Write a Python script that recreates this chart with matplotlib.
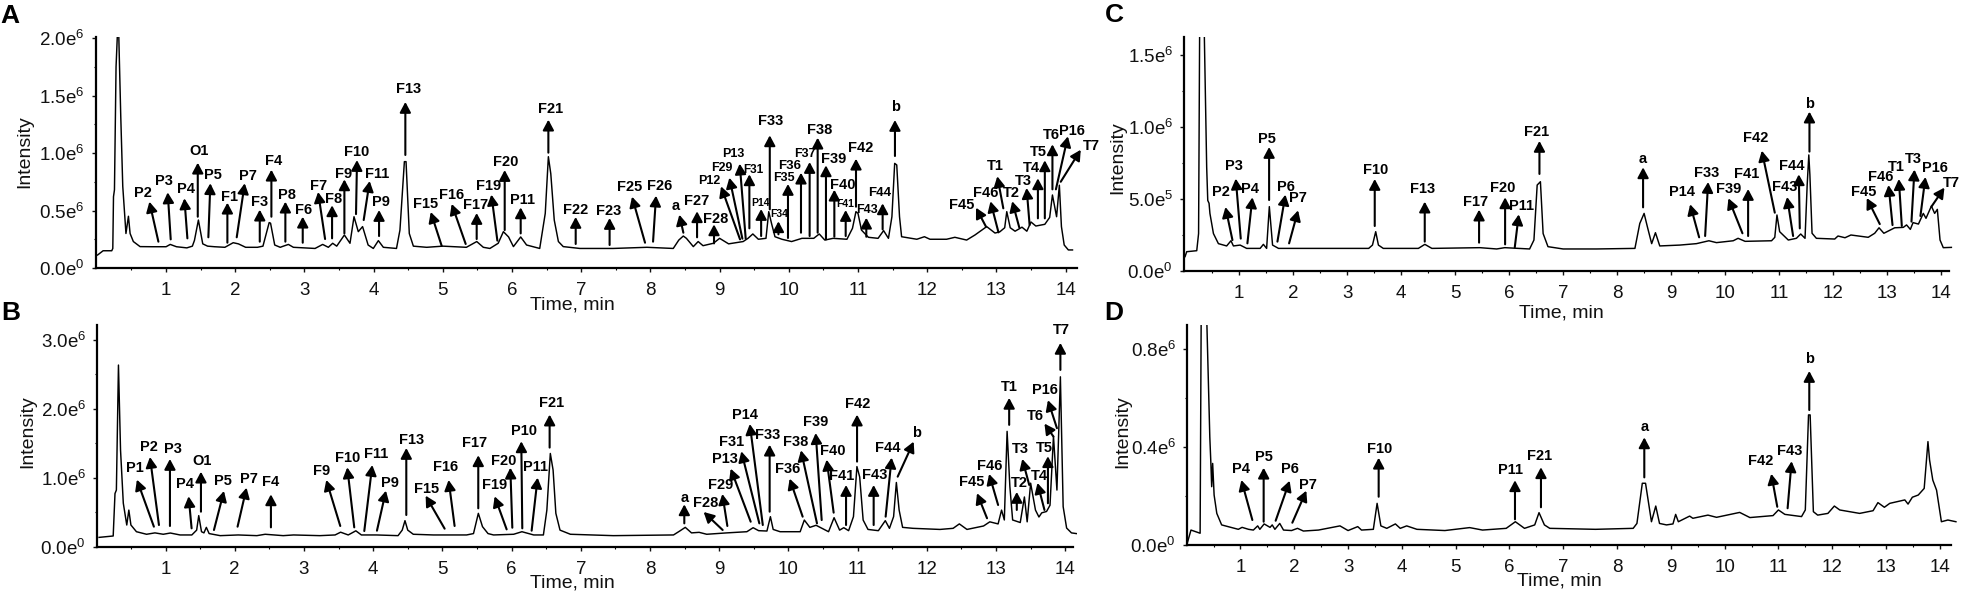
import matplotlib
matplotlib.use('Agg')
import matplotlib.pyplot as plt

plt.rcParams['font.family'] = ['Liberation Sans', 'DejaVu Sans']
plt.rcParams['mathtext.default'] = 'regular'
plt.rcParams['mathtext.fontset'] = 'custom'
plt.rcParams['mathtext.rm'] = 'Liberation Sans'

# chromatograms, intensity in units of 1e6
a_time = [0.01,0.09,0.215,0.23,0.24,0.254,0.277,0.297,0.316,0.345,0.374,0.42,0.456,0.48,0.527,0.624,0.8,1.0,1.06,1.15,1.3,1.38,1.41,1.467,1.53,1.6,1.7,1.85,1.97,2.045,2.15,2.32,2.4,2.49,2.51,2.57,2.65,2.695,2.768,2.84,3.0,3.153,3.263,3.345,3.408,3.466,3.577,3.658,3.716,3.778,3.84,3.92,3.995,4.068,4.14,4.33,4.38,4.444,4.468,4.515,4.574,4.766,5.0,5.34,5.49,5.585,5.68,5.8,5.875,5.95,6.02,6.125,6.21,6.4,6.48,6.525,6.56,6.61,6.67,6.74,6.98,7.46,7.95,8.33,8.41,8.475,8.52,8.62,8.69,8.76,8.91,9.0,9.13,9.34,9.41,9.48,9.56,9.67,9.71,9.75,9.8,9.9,10.04,10.19,10.36,10.44,10.52,10.64,10.84,10.92,10.97,11.0,11.05,11.15,11.29,11.37,11.44,11.49,11.53,11.56,11.6,11.63,11.85,11.96,12.04,12.28,12.4,12.57,12.69,12.86,12.98,13.05,13.12,13.15,13.2,13.27,13.37,13.44,13.5,13.57,13.7,13.77,13.81,13.87,13.91,13.94,13.98,14.04,14.1]
a_intensity = [0.113,0.15,0.15,0.17,0.62,0.68,1.75,2.04,2.03,1.32,0.71,0.30,0.45,0.3,0.23,0.186,0.185,0.185,0.205,0.185,0.175,0.19,0.24,0.417,0.21,0.19,0.185,0.18,0.22,0.21,0.18,0.18,0.19,0.395,0.39,0.2,0.18,0.19,0.205,0.18,0.175,0.17,0.205,0.18,0.215,0.19,0.287,0.215,0.446,0.316,0.36,0.2,0.17,0.238,0.18,0.17,0.33,0.925,0.925,0.3,0.19,0.18,0.19,0.18,0.23,0.18,0.17,0.215,0.316,0.27,0.186,0.27,0.2,0.17,0.475,0.968,0.82,0.417,0.23,0.186,0.17,0.17,0.18,0.17,0.243,0.278,0.258,0.186,0.23,0.194,0.215,0.258,0.21,0.23,0.258,0.296,0.25,0.258,0.49,0.388,0.272,0.25,0.23,0.258,0.258,0.296,0.243,0.258,0.25,0.345,0.49,0.475,0.33,0.267,0.258,0.325,0.258,0.446,0.91,0.896,0.446,0.272,0.25,0.272,0.25,0.25,0.267,0.243,0.287,0.36,0.304,0.315,0.35,0.49,0.35,0.32,0.355,0.32,0.4,0.365,0.38,0.44,0.635,0.446,0.72,0.36,0.2,0.157,0.157]

b_time = [0.04,0.244,0.27,0.29,0.32,0.35,0.39,0.44,0.47,0.5,0.58,0.726,0.847,0.967,1.07,1.21,1.38,1.45,1.48,1.52,1.555,1.59,1.63,1.79,2.05,2.32,2.44,2.7,2.85,3.23,3.45,3.53,3.64,3.75,3.83,4.05,4.36,4.42,4.46,4.5,4.58,4.87,5.35,5.45,5.52,5.58,5.66,5.74,6.03,6.15,6.32,6.46,6.51,6.56,6.6,6.64,6.7,6.85,7.47,8.34,8.43,8.51,8.6,8.71,8.82,9.11,9.4,9.49,9.57,9.69,9.74,9.78,9.88,10.17,10.23,10.31,10.4,10.58,10.66,10.74,10.8,10.87,10.94,10.99,11.03,11.08,11.15,11.3,11.4,11.46,11.52,11.56,11.6,11.65,11.8,12.19,12.38,12.47,12.58,12.82,12.91,13.03,13.08,13.12,13.16,13.2,13.24,13.35,13.41,13.45,13.5,13.57,13.62,13.66,13.73,13.78,13.83,13.88,13.93,13.97,14.02,14.09,14.16]
b_intensity = [0.135,0.155,0.77,0.82,2.63,1.4,0.63,0.314,0.53,0.314,0.217,0.18,0.2,0.18,0.198,0.17,0.17,0.24,0.45,0.217,0.2,0.28,0.19,0.16,0.17,0.16,0.18,0.16,0.17,0.16,0.17,0.21,0.17,0.23,0.17,0.17,0.16,0.24,0.377,0.24,0.18,0.17,0.17,0.19,0.483,0.29,0.19,0.17,0.18,0.217,0.17,0.17,0.53,1.35,1.11,0.483,0.24,0.18,0.16,0.17,0.227,0.28,0.2,0.208,0.18,0.2,0.217,0.275,0.232,0.227,0.435,0.25,0.217,0.217,0.386,0.28,0.31,0.217,0.42,0.24,0.275,0.232,0.435,1.16,1.01,0.386,0.25,0.232,0.377,0.266,0.435,0.93,0.53,0.28,0.266,0.25,0.266,0.33,0.25,0.3,0.36,0.33,0.53,0.387,1.67,0.87,0.387,0.35,0.72,0.36,0.92,0.53,0.43,0.49,0.51,0.6,1.6,0.82,2.46,0.58,0.27,0.2,0.19]

c_time = [0.0,0.03,0.216,0.25,0.27,0.32,0.358,0.4,0.42,0.444,0.46,0.525,0.617,0.77,0.85,0.895,1.02,1.14,1.39,1.45,1.51,1.56,1.62,1.73,2.47,3.4,3.47,3.53,3.58,3.67,4.32,4.44,4.57,5.46,5.77,5.92,6.38,6.46,6.52,6.58,6.63,6.72,7.0,7.62,8.33,8.42,8.5,8.56,8.64,8.71,8.79,9.16,9.47,9.7,9.84,10.15,10.24,10.37,10.86,10.92,10.96,11.01,11.17,11.32,11.4,11.48,11.52,11.55,11.57,11.61,11.69,12.03,12.09,12.22,12.33,12.65,12.77,12.85,12.94,13.14,13.3,13.36,13.43,13.48,13.58,13.67,13.72,13.82,13.88,13.93,13.98,14.04,14.19]
c_intensity = [0.1,0.134,0.141,0.26,1.7,2.5,1.604,0.72,0.49,0.47,0.40,0.26,0.19,0.174,0.21,0.174,0.18,0.157,0.157,0.185,0.157,0.447,0.18,0.157,0.157,0.157,0.18,0.273,0.18,0.157,0.157,0.185,0.157,0.162,0.153,0.162,0.153,0.215,0.597,0.62,0.26,0.169,0.153,0.153,0.157,0.33,0.40,0.308,0.19,0.266,0.174,0.18,0.19,0.21,0.197,0.21,0.227,0.206,0.21,0.234,0.389,0.273,0.215,0.227,0.257,0.227,0.6,0.806,0.667,0.262,0.227,0.222,0.243,0.231,0.25,0.234,0.262,0.30,0.262,0.30,0.303,0.32,0.289,0.336,0.326,0.40,0.366,0.451,0.40,0.428,0.215,0.162,0.164]

d_time = [0.01,0.08,0.25,0.27,0.32,0.37,0.43,0.45,0.465,0.483,0.51,0.56,0.65,0.77,0.96,1.03,1.15,1.24,1.32,1.36,1.44,1.55,1.59,1.64,1.73,1.8,1.95,2.06,2.17,2.45,2.85,3.0,3.18,3.25,3.47,3.54,3.61,3.72,3.88,3.97,4.09,4.28,4.8,5.26,5.5,5.94,6.11,6.28,6.47,6.55,6.65,6.75,7.6,8.3,8.37,8.47,8.53,8.64,8.72,8.79,8.92,9.04,9.09,9.14,9.35,9.41,9.69,9.85,10.28,10.47,10.9,11.0,11.12,11.43,11.5,11.56,11.59,11.65,11.73,11.92,12.04,12.14,12.51,12.76,12.85,12.97,13.07,13.35,13.41,13.49,13.6,13.71,13.78,13.81,13.87,13.94,14.03,14.15,14.3]
d_intensity = [0.007,0.061,0.048,0.95,1.5,0.95,0.44,0.333,0.238,0.333,0.204,0.129,0.082,0.075,0.064,0.072,0.064,0.061,0.078,0.064,0.086,0.072,0.082,0.064,0.088,0.061,0.059,0.068,0.057,0.061,0.078,0.059,0.075,0.061,0.064,0.17,0.078,0.068,0.086,0.068,0.078,0.064,0.059,0.071,0.061,0.068,0.095,0.068,0.082,0.132,0.082,0.068,0.064,0.068,0.088,0.252,0.252,0.095,0.159,0.088,0.082,0.086,0.125,0.095,0.118,0.109,0.122,0.113,0.133,0.112,0.12,0.143,0.125,0.116,0.143,0.531,0.531,0.136,0.122,0.129,0.159,0.143,0.129,0.14,0.173,0.154,0.17,0.184,0.167,0.195,0.204,0.231,0.422,0.347,0.265,0.224,0.095,0.102,0.095]

# peak labels: name, time and intensity where the arrow starts
a_peaks = [('P2',0.889,0.229),('P3',1.067,0.249),('P4',1.308,0.258),('O1',1.458,0.446),('P5',1.611,0.267),('P7',2.021,0.267),('F1',1.886,0.22),('F3',2.354,0.229),('F4',2.522,0.446),('P8',2.724,0.229),('F6',2.975,0.22),('F7',3.298,0.252),('F8',3.399,0.258),('F9',3.577,0.301),('F10',3.745,0.469),('F11',3.856,0.417),('P9',4.078,0.278),('F13',4.458,0.983),('F15',4.984,0.191),('F16',5.33,0.209),('F17',5.489,0.252),('F19',5.788,0.238),('F20',5.894,0.33),('P11',6.125,0.301),('F21',6.525,1.003),('F22',6.92,0.209),('F23',7.41,0.2),('F25',7.922,0.22),('F26',8.038,0.229),('a',8.476,0.307),('F27',8.674,0.267),('F28',8.919,0.214),('P12',9.295,0.249),('F29',9.329,0.255),('P13',9.377,0.255),('F31',9.43,0.345),('P14',9.6,0.278),('F33',9.725,0.51),('F34',9.85,0.293),('F35',9.988,0.261),('F36',10.176,0.307),('F37',10.301,0.278),('F38',10.417,0.307),('F39',10.537,0.249),('F40',10.658,0.272),('F41',10.822,0.278),('F42',10.971,0.533),('F43',11.12,0.272),('F44',11.356,0.336),('b',11.534,0.974),('F45',12.85,0.359),('F46',13.03,0.31),('T1',13.1,0.519),('T2',13.33,0.354),('T3',13.48,0.374),('T4',13.6,0.432),('T5',13.7,0.432),('T6',13.81,0.684),('P16',13.86,0.684),('T7',13.93,0.75)]
b_peaks = [('P1',0.832,0.29),('P2',0.905,0.314),('P3',1.064,0.3),('P4',1.377,0.266),('O1',1.512,0.507),('P5',1.7,0.242),('P7',2.041,0.29),('F4',2.523,0.28),('F9',3.525,0.3),('F10',3.727,0.28),('F11',3.872,0.227),('P9',4.055,0.232),('F13',4.479,0.459),('F15',5.033,0.261),('F16',5.177,0.3),('F17',5.519,0.556),('F19',5.929,0.251),('F20',6.011,0.275),('P10',6.155,0.266),('P11',6.29,0.232),('F21',6.55,1.435),('a',8.496,0.338),('F28',9.05,0.242),('F29',9.118,0.3),('P13',9.455,0.362),('F31',9.58,0.338),('P14',9.63,0.314),('F33',9.729,0.507),('F36',10.206,0.435),('F38',10.413,0.338),('F39',10.481,0.386),('F40',10.654,0.493),('F41',10.833,0.314),('F42',10.992,1.232),('F43',11.232,0.314),('F44',11.405,0.435),('b',11.579,1.014),('F45',12.87,0.412),('F46',13.03,0.604),('T1',13.19,1.764),('T2',13.3,0.532),('T3',13.48,0.894),('T4',13.7,0.532),('T5',13.75,0.629),('T6',13.83,1.594),('P16',13.88,1.716),('T7',13.93,2.56)]
c_peaks = [('P2',0.877,0.215),('P3',1.031,0.225),('P4',1.154,0.192),('P5',1.556,0.493),('P6',1.71,0.204),('P7',1.926,0.192),('F10',3.512,0.3125),('F13',4.438,0.204),('F17',5.444,0.197),('F20',5.926,0.185),('P11',6.105,0.164),('F21',6.562,0.674),('a',8.481,0.442),('P14',9.519,0.234),('F33',9.63,0.243),('F39',10.321,0.262),('F41',10.426,0.243),('F42',10.92,0.405),('F43',11.259,0.243),('F44',11.383,0.296),('b',11.562,0.829),('F45',12.864,0.326),('F46',13.1,0.319),('T1',13.272,0.3125),('T3',13.451,0.343),('P16',13.617,0.382),('T7',13.821,0.447)]
d_peaks = [('P4',1.221,0.102),('P5',1.431,0.095),('P6',1.654,0.099),('P7',1.964,0.091),('F10',3.569,0.197),('P11',6.103,0.105),('F21',6.586,0.154),('a',8.507,0.276),('F42',10.979,0.156),('F43',11.171,0.15),('b',11.574,0.551)]

# arrow vector and label position relative to arrow tip, in pixels
a_offsets = [(-9,40,-6,9),(-3,47,-4,11),(-3,40,2,9),(0,54,1,12),(2,54,3,8),(8,54,3,7),(0,40,2,6),(0,32,0,8),(0,47,2,9),(0,40,2,7),(0,26,1,7),(-7,47,0,6),(0,33,1,6),(0,54,-1,5),(1,54,0,8),(6,39,7,7),(0,26,2,8),(0,53,3,13),(-11,34,-5,8),(-14,40,0,9),(0,26,-1,8),(-6,46,-3,9),(0,60,1,8),(0,26,2,7),(0,33,2,11),(0,27,0,7),(0,27,-1,7),(-13,46,-2,10),(3,46,4,10),(-4,18,-4,9),(0,26,0,10),(0,19,2,5),(-19,53,-12,5),(-13,61,-8,10),(-6,75,-6,10),(0,54,4,4),(0,27,-1,6),(0,74,1,14),(0,13,1,7),(0,54,-4,6),(0,60,-11,7),(0,74,-5,8),(0,95,2,8),(0,74,8,6),(0,47,8,5),(0,26,-1,6),(0,48,5,11),(0,19,1,8),(0,26,-3,10),(0,36,1,13),(-10,19,-14,3),(-8,31,-5,8),(-6,32,-2,10),(-7,26,-1,8),(-3,37,-3,7),(0,40,-6,10),(0,58,-6,8),(0,45,-1,9),(12,53,4,5),(20,32,11,4)]
b_offsets = [(-17,47,-2,12),(-9,68,-1,10),(0,67,3,10),(-3,32,-4,12),(0,40,1,11),(10,39,-1,10),(9,39,2,9),(0,33,0,12),(-14,46,-5,9),(-7,60,0,9),(8,66,4,11),(9,40,4,8),(0,67,5,8),(-19,33,1,7),(-6,46,-3,13),(0,53,-4,12),(-12,33,0,11),(-2,60,-7,7),(-1,87,3,10),(6,53,-2,11),(0,33,2,12),(0,19,0,6),(-19,18,2,9),(-5,32,-2,9),(-20,53,-6,10),(-18,72,-10,9),(-13,101,-5,9),(0,67,-2,10),(-13,38,-2,10),(-16,73,-5,8),(-6,87,0,11),(-7,53,6,9),(0,40,-4,9),(0,47,1,11),(0,40,1,10),(6,59,-4,10),(16,35,3,9),(-10,25,-5,11),(-9,31,1,8),(0,27,0,11),(0,18,3,9),(-7,26,-2,10),(-7,27,2,7),(0,47,-4,8),(-9,13,-9,8),(-9,28,-3,10),(0,27,1,13)]
c_offsets = [(-7,33,-5,15),(-5,60,-2,13),(5,46,-2,8),(0,53,-2,8),(8,47,1,8),(9,33,0,12),(0,47,1,9),(0,40,-2,13),(0,33,-4,8),(0,47,-2,9),(4,33,3,8),(0,33,-3,9),(0,40,0,8),(-9,33,-8,12),(3,54,-2,9),(-14,35,0,9),(0,47,-1,15),(-13,62,-6,13),(-6,39,-2,10),(-1,54,-7,8),(0,40,0,8),(-13,26,-3,6),(-4,40,-8,8),(-3,47,-2,12),(3,52,-1,11),(5,39,10,9),(13,19,7,5)]
d_offsets = [(-11,40,0,11),(0,54,0,11),(14,40,0,12),(14,32,2,6),(0,39,1,9),(0,39,-4,10),(0,40,-1,11),(0,40,0,10),(-6,33,-11,13),(4,47,-2,10),(0,39,0,12)]

# label sizes in panel A differ, the rest use one size per panel
a_sizes = {'P14':7.5,'F31':8.5,'F34':7.5,'F41':7.5,'P12':9,'P13':9,'F29':9,'F35':9,'F36':9.5,'F37':9,'F43':9,'F44':9.5}

y_ticks = [[0,0.5,1.0,1.5,2.0],[0,1,2,3],[0,0.5,1.0,1.5],[0,0.4,0.8]]
y_labels = [['0.0e$^{0}$','0.5e$^{6}$','1.0e$^{6}$','1.5e$^{6}$','2.0e$^{6}$'],
            ['0.0e$^{0}$','1.0e$^{6}$','2.0e$^{6}$','3.0e$^{6}$'],
            ['0.0e$^{0}$','5.0e$^{5}$','1.0e$^{6}$','1.5e$^{6}$'],
            ['0.0e$^{0}$','0.4e$^{6}$','0.8e$^{6}$']]
x_ticks = list(range(1,15))

W, H = 1963, 595
fig = plt.figure(figsize=(W/100, H/100), dpi=100)


def panel(box, xlim, ylim, spine_end, time, intensity, peaks, offsets, yt, yl, label_size, sizes):
    left, right, top, bottom = box
    ax = fig.add_axes([left/W, 1-bottom/H, (right-left)/W, (bottom-top)/H])
    ax.plot(time, intensity, color='black', lw=1.05)
    ax.set_xlim(xlim)
    ax.set_ylim(ylim)

    ax.spines['top'].set_visible(False)
    ax.spines['right'].set_visible(False)
    ax.spines['left'].set_linewidth(1.6)
    ax.spines['bottom'].set_linewidth(1.6)
    ax.spines['bottom'].set_bounds(xlim[0], spine_end)

    ax.set_xticks(x_ticks)
    ax.set_xticks([t+0.5 for t in range(0,14)], minor=True)
    ax.set_yticks(yt)
    ax.set_yticklabels(yl)
    ax.set_yticks([(yt[i]+yt[i+1])/2 for i in range(len(yt)-1)], minor=True)
    ax.tick_params(axis='both', which='major', labelsize=13.5, length=3, width=1, pad=5, colors='#111111')
    ax.tick_params(axis='both', which='minor', length=1.5, width=0.8)
    ax.tick_params(axis='x', which='major', pad=7)

    for (name, t, y), (dx, dy, lx, ly) in zip(peaks, offsets):
        ax.annotate('', xy=(t, y), xytext=(dx, dy), textcoords='offset pixels', annotation_clip=False,
                    arrowprops=dict(arrowstyle='<|-,head_length=0.62,head_width=0.33', color='black',
                                    lw=1.5, shrinkA=0, shrinkB=0, mutation_scale=10))
        ax.annotate(name, xy=(t, y), xytext=(dx+lx, dy+ly), textcoords='offset pixels', annotation_clip=False,
                    ha='center', va='center', fontweight='bold', fontsize=sizes.get(name, label_size))
    return ax


panel((95.5,1077,37,268), (-0.02,14.165), (0,2.009), 14.165, a_time, a_intensity, a_peaks, a_offsets, y_ticks[0], y_labels[0], 10.5, a_sizes)
panel((97,1077,325,546.7), (0.01,14.17), (0,3.21), 14.11, b_time, b_intensity, b_peaks, b_offsets, y_ticks[1], y_labels[1], 10.5, {})
panel((1184,1953,37,271), (-0.02,14.22), (0,1.625), 14.15, c_time, c_intensity, c_peaks, c_offsets, y_ticks[2], y_labels[2], 10.5, {})
panel((1187,1957,325,545), (0.006,14.32), (0,0.898), 14.2, d_time, d_intensity, d_peaks, d_offsets, y_ticks[3], y_labels[3], 10.5, {})

# axis titles and panel letters sit off-centre in the original
for x, y in [(572,305),(572,583),(1561,313),(1559,581)]:
    fig.text(x/W, 1-y/H, 'Time, min', ha='center', va='center', fontsize=14, color='#111111')
for x, y in [(25,152),(28,432),(1118,158),(1123,432)]:
    fig.text(x/W, 1-y/H, 'Intensity', ha='center', va='center', rotation=90, fontsize=14, color='#111111')
for s, x, y in [('A',10,16),('B',11,313),('C',1114,15),('D',1114,313)]:
    fig.text(x/W, 1-y/H, s, ha='center', va='center', fontsize=19, fontweight='bold')

fig.savefig('out.png', dpi=100)
